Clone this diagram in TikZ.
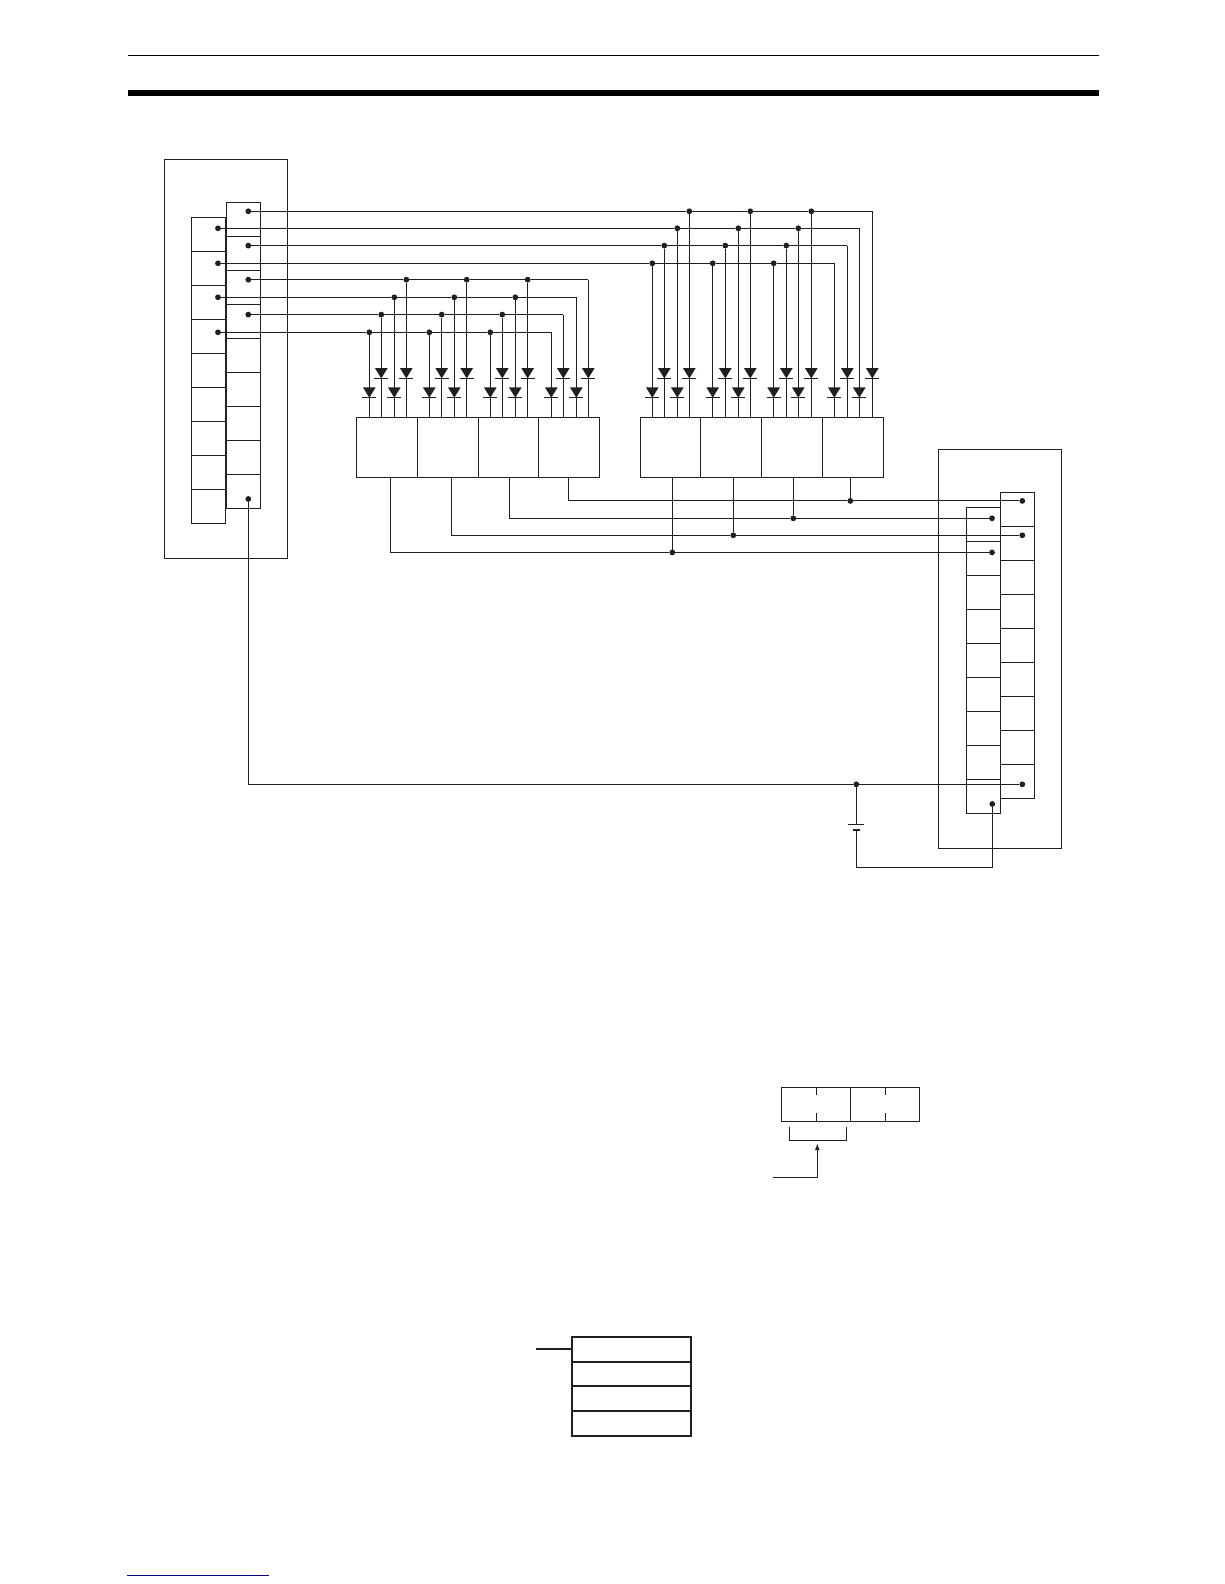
\documentclass[tikz,border=0pt]{standalone}
\usetikzlibrary{arrows.meta,calc}
\definecolor{ink}{HTML}{231F20}
\definecolor{linkblue}{HTML}{0A0A90}
\tikzset{
  wire/.style={draw=ink,line width=1.05pt},
  cell/.style={draw=ink,line width=1.05pt,rectangle,inner sep=0pt,outer sep=0pt,anchor=north west,fill=none},
  dotnode/.style={circle,fill=ink,draw=none,inner sep=0pt,outer sep=0pt,minimum size=5.8pt},
  tablecell/.style={cell,line width=1.7pt,minimum width=119pt},
}
\newcommand{\diodesym}[2]{%
  \fill[ink] ({#1-6.4},{#2}) -- ({#1+6.4},{#2}) -- ({#1},{#2+10.4}) -- cycle;
  \draw[wire] ({#1-7},{#2+10.4}) -- ({#1+7},{#2+10.4});
}
\begin{document}
\begin{tikzpicture}[x=1pt,y=-1pt]
\useasboundingbox (0,0) rectangle (1224,1584);
% page rules
\draw[black,line width=1.05pt] (128,55.4) -- (1099,55.4);
\fill[black] (128,90) rectangle (1099,96);
\draw[linkblue,line width=1.05pt] (127,1575.4) -- (269,1575.4);
% modules
\node[cell,minimum width=123pt,minimum height=399pt] (modL) at (164.5,159.5) {};
\foreach \i in {0,...,8} {
  \node[cell,minimum width=34pt,minimum height=34pt] (La\i) at (191.5,{217.3+34*\i}) {};
  \node[cell,minimum width=34pt,minimum height=34pt] (Lb\i) at (226.3,{202.3+34*\i}) {};
}
\node[cell,minimum width=123pt,minimum height=399pt] (modR) at (938.3,449.3) {};
\foreach \i in {0,...,8} {
  \node[cell,minimum width=33.6pt,minimum height=34pt] (Ra\i) at (966.7,{507.3+34*\i}) {};
  \node[cell,minimum width=34pt,minimum height=34pt] (Rb\i) at (1000.3,{492.3+34*\i}) {};
}
% blocks
\foreach \n/\x/\w in {p1/356.3/61,p2/417.3/61,p3/478.3/60,p4/538.3/61,q1/640.3/60,q2/700.3/61,q3/761.3/61,q4/822.3/61} {
  \node[cell,minimum width=\w pt,minimum height=60pt] (\n) at (\x,417.3) {};
}
% input wires with junctions and diodes
\foreach \r/\y/\sx/\a/\b/\c/\d/\dy in {
  a/211.3/248.3/689.3/750.3/811.3/872.3/368,
  b/228.3/218/677.3/738.3/798.3/859.3/387.3,
  c/245.6/248.3/664.3/725.3/786.3/847.3/368,
  d/263.3/218/652.3/712.7/773.7/834.3/387.3,
  e/279.7/248.3/406.3/466.7/527.7/588.3/368,
  f/297.3/218/394.3/454.3/515.3/576.3/387.3,
  g/314.6/248.3/381.3/441.7/502.3/563.3/368,
  h/332.3/218/369.3/429.3/490.3/551.3/387.3} {
  \node[dotnode] (s\r) at (\sx,\y) {};
  \node[dotnode] (\r1) at (\a,\y) {};
  \node[dotnode] (\r2) at (\b,\y) {};
  \node[dotnode] (\r3) at (\c,\y) {};
  \coordinate (\r4) at (\d,\y);
  \draw[wire] (s\r) -- (\r1) -- (\r2) -- (\r3) -- (\r4);
  \foreach \k/\xx in {1/\a,2/\b,3/\c,4/\d} {
    \coordinate (t\r\k) at (\xx,417.3);
    \draw[wire] (\r\k) -- (t\r\k);
    \diodesym{\xx}{\dy}
  }
}
% output wires
\foreach \r/\y/\ex/\xa/\xb in {
  w/500.9/1022.3/568.3/850.3,
  x/518.3/992/509.3/793.3,
  y/535.3/1022.3/451.3/733.3,
  z/552.4/992/390.3/672.3} {
  \coordinate (\r a) at (\xa,477.3);
  \coordinate (\r b) at (\xb,477.3);
  \coordinate (\r c) at (\xa,\y);
  \node[dotnode] (\r j) at (\xb,\y) {};
  \node[dotnode] (\r e) at (\ex,\y) {};
  \draw[wire] (\r a) -- (\r c) -- (\r j) -- (\r e);
  \draw[wire] (\r b) -- (\r j);
}
% supply wiring
\node[dotnode] (com) at (248.3,499) {};
\coordinate (comc) at (248.3,784.3);
\node[dotnode] (batj) at (856.3,784.3) {};
\node[dotnode] (come) at (1022.3,784.3) {};
\node[dotnode] (cor) at (992.3,804) {};
\coordinate (batp) at (856.3,824.3);
\coordinate (batn) at (856.3,830);
\coordinate (batc) at (856.3,867.3);
\coordinate (cord) at (992.3,867.3);
\draw[wire] (com) -- (comc) -- (batj) -- (come);
\draw[wire] (batj) -- (batp);
\draw[wire] ($(batp)+(-8,0)$) -- ($(batp)+(8,0)$);
\draw[ink,line width=2pt] ($(batn)+(-3.6,0)$) -- ($(batn)+(3.6,0)$);
\draw[wire] (batn) -- (batc) -- (cord) -- (cor);
% word diagram
\node[cell,minimum width=69pt,minimum height=34pt] (wa) at (781.3,1087.3) {};
\node[cell,minimum width=69pt,minimum height=34pt] (wb) at (850.3,1087.3) {};
\foreach \x in {816.3,885.3} {
  \draw[wire] (\x,1087.3) -- (\x,1095.3);
  \draw[wire] (\x,1113.3) -- (\x,1121.3);
}
\draw[wire] (789.3,1126.7) -- (789.3,1140.3) -- (846.3,1140.3) -- (846.3,1126.7);
\coordinate (pa) at (773,1177.3);
\coordinate (pb) at (817.3,1177.3);
\coordinate (pc) at (817.3,1143.2);
\draw[wire,-{Latex[length=7pt,width=5pt]}] (pa) -- (pb) -- (pc);
% table
\foreach \n/\y/\h in {t1/1336.7/25,t2/1361.7/24,t3/1385.7/25,t4/1410.7/25} {
  \node[tablecell,minimum height=\h pt] (\n) at (572,\y) {};
}
\coordinate (stub) at (536,1348.7);
\draw[ink,line width=1.7pt] (stub) -- (572,1348.7);
\end{tikzpicture}
\end{document}
